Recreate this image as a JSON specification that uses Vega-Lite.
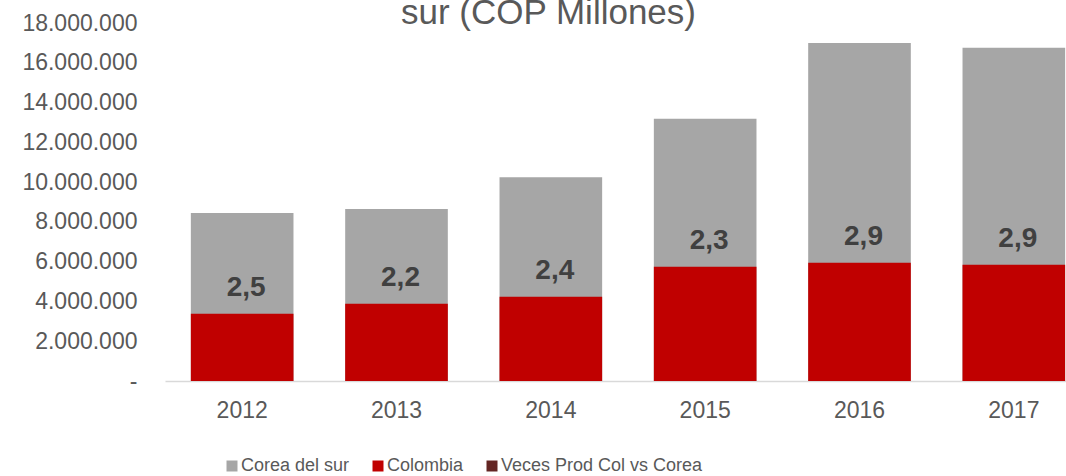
{
  "$schema": "https://vega.github.io/schema/vega-lite/v6.json",
  "autosize": "none",
  "width": 901,
  "height": 358,
  "padding": {"left": 165, "top": 23, "right": 0, "bottom": 95},
  "config": {
    "locale": {"number": {"decimal": ",", "thousands": ".", "grouping": [3], "currency": ["$", ""]}},
    "font": "Liberation Sans",
    "view": {"stroke": null},
    "axisY": {"labelOverlap": false},
    "legend": {"padding": 0}
  },
  "title": {
    "text": "sur (COP Millones)",
    "anchor": "middle",
    "frame": "group",
    "dx": -67,
    "offset": -47,
    "baseline": "alphabetic",
    "fontSize": 35,
    "fontWeight": "normal",
    "color": "#595959",
    "font": "Liberation Sans"
  },
  "data": {
    "values": [
      {"year": "2012", "corea": 8450000, "colombia": 3380000, "veces": 2.5},
      {"year": "2013", "corea": 8650000, "colombia": 3880000, "veces": 2.2},
      {"year": "2014", "corea": 10250000, "colombia": 4240000, "veces": 2.4},
      {"year": "2015", "corea": 13190000, "colombia": 5740000, "veces": 2.3},
      {"year": "2016", "corea": 17000000, "colombia": 5940000, "veces": 2.9},
      {"year": "2017", "corea": 16750000, "colombia": 5840000, "veces": 2.9}
    ]
  },
  "encoding": {
    "x": {
      "field": "year",
      "type": "nominal",
      "sort": null,
      "scale": {"range": [0, 926], "paddingInner": 0.335, "paddingOuter": 0.1675},
      "axis": {
        "title": null,
        "labelAngle": 0,
        "labelFontSize": 23,
        "labelColor": "#595959",
        "labelPadding": 18,
        "ticks": false,
        "domainColor": "#D9D9D9",
        "domainWidth": 1.5
      }
    },
    "y": {
      "field": "corea",
      "type": "quantitative",
      "scale": {"domain": [0, 18000000]},
      "axis": {
        "title": null,
        "values": [0, 2000000, 4000000, 6000000, 8000000, 10000000, 12000000, 14000000, 16000000, 18000000],
        "format": ",d",
        "labelExpr": "datum.value == 0 ? '-' : datum.label",
        "labelFontSize": 23,
        "labelColor": "#595959",
        "labelPadding": 28,
        "labelOverlap": false,
        "ticks": false,
        "domain": false,
        "grid": false
      }
    }
  },
  "layer": [
    {
      "mark": {"type": "bar", "color": "#A6A6A6"},
      "encoding": {
        "color": {
          "datum": "Corea del sur",
          "type": "nominal",
          "scale": {
            "domain": ["Corea del sur", "Colombia", "Veces Prod Col vs Corea"],
            "range": ["#A6A6A6", "#C00000", "#632523"]
          },
          "legend": {
            "title": null,
            "orient": "none",
            "direction": "horizontal",
            "legendX": 58,
            "legendY": 434,
            "symbolType": "square",
            "symbolSize": 121,
            "symbolStrokeWidth": 0,
            "labelFontSize": 18,
            "labelLimit": 0,
            "labelColor": "#595959",
            "labelOffset": 0,
            "columnPadding": 19
          }
        }
      }
    },
    {
      "mark": {"type": "bar"},
      "encoding": {
        "y": {"field": "colombia", "type": "quantitative"},
        "color": {"datum": "Colombia", "type": "nominal"}
      }
    },
    {
      "mark": {"type": "text", "baseline": "middle", "dy": -26, "dx": 4, "fontSize": 28, "fontWeight": "bold", "color": "#404040"},
      "encoding": {
        "y": {"field": "colombia", "type": "quantitative"},
        "text": {"field": "veces", "type": "quantitative", "format": ".1f"}
      }
    }
  ]
}
